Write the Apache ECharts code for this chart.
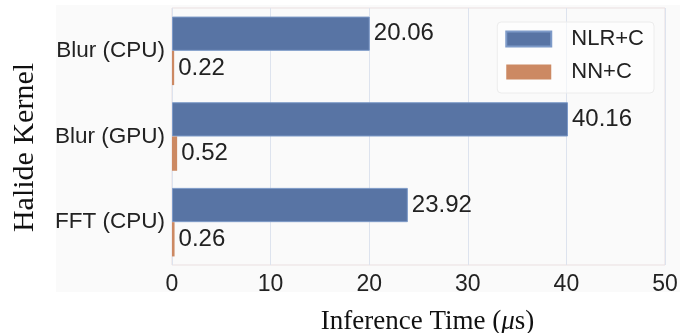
<!DOCTYPE html>
<html>
<head>
<meta charset="utf-8">
<script src="https://cdn.jsdelivr.net/npm/echarts@6/dist/echarts.min.js"></script>
<style>
  html, body { margin: 0; padding: 0; background: #fff; }
  #chartBox { width: 690px; height: 333px; }
</style>
</head>
<body>
<div id="chartBox"></div>
<script>
// data
const kernels = ['Blur (CPU)', 'Blur (GPU)', 'FFT (CPU)']
const nlrC = [20.06, 40.16, 23.92]
const nnC = [0.22, 0.52, 0.26]
const xTicks = [0, 10, 20, 30, 40, 50]

const sansFont = 'Liberation Sans, Arial, sans-serif'
const serifFont = 'Liberation Serif, Times New Roman, serif'

let myChart = echarts.init(document.getElementById('chartBox'))
myChart.setOption({
  backgroundColor: '#fff',
  animation: false,
  graphic: [{
    type: 'rect',
    z: -10,
    shape: { x: 56, y: 5, width: 624, height: 287 },
    style: { fill: '#fafafa' }
  }],
  grid: {
    left: 172, right: 25, top: 8, bottom: 68,
    outerBoundsMode: 'none',
    containLabel: false,
    show: true,
    borderColor: '#eadfe0',
    borderWidth: 1,
    backgroundColor: 'transparent'
  },
  legend: {
    right: 36, top: 22,
    orient: 'vertical',
    icon: 'rect',
    itemWidth: 45, itemHeight: 15, itemGap: 11,
    padding: [6, 10, 10, 8],
    backgroundColor: 'rgba(255,255,255,0.6)',
    borderColor: '#ececec', borderWidth: 1, borderRadius: 4,
    textStyle: { fontFamily: sansFont, fontSize: 22, color: '#222', padding: [0, 0, 0, 15] },
    data: ['NLR+C', 'NN+C']
  },
  xAxis: {
    type: 'value',
    min: xTicks[0], max: xTicks[xTicks.length - 1], interval: 10,
    name: '{n|Inference Time (}{m|μ}{n|s)}',
    nameLocation: 'middle', nameGap: 43,
    nameTextStyle: {
      padding: [0, 0, 0, 18],
      rich: {
        n: { fontFamily: serifFont, fontSize: 27, color: '#111' },
        m: { fontFamily: serifFont, fontSize: 27, color: '#111', fontStyle: 'italic' }
      }
    },
    axisLine: { show: false },
    axisTick: { show: false },
    axisLabel: { fontFamily: sansFont, fontSize: 23, color: '#222', margin: 8 },
    splitLine: { lineStyle: { color: '#dde3ee', width: 1 } }
  },
  yAxis: {
    type: 'category',
    data: kernels,
    inverse: true,
    name: 'Halide Kernel',
    nameLocation: 'middle', nameGap: 132,
    nameTextStyle: { fontFamily: serifFont, fontSize: 30, color: '#111', padding: [0, 22, 0, 0] },
    axisLine: { show: false },
    axisTick: { show: false },
    axisLabel: { fontFamily: sansFont, fontSize: 22.5, color: '#222', margin: 7 },
    splitLine: { show: false }
  },
  series: [{
    name: 'NLR+C',
    type: 'bar',
    data: nlrC,
    barGap: '0%',
    barCategoryGap: '20%',
    itemStyle: { color: '#5874a4', borderColor: '#7d9ac8', borderWidth: 1 },
    label: { show: true, position: 'right', distance: 4, fontFamily: sansFont, fontSize: 24, color: '#222' }
  }, {
    name: 'NN+C',
    type: 'bar',
    data: nnC,
    itemStyle: { color: '#cc8963' },
    label: { show: true, position: 'right', distance: 4, fontFamily: sansFont, fontSize: 24, color: '#222' }
  }]
})
</script>
</body>
</html>
